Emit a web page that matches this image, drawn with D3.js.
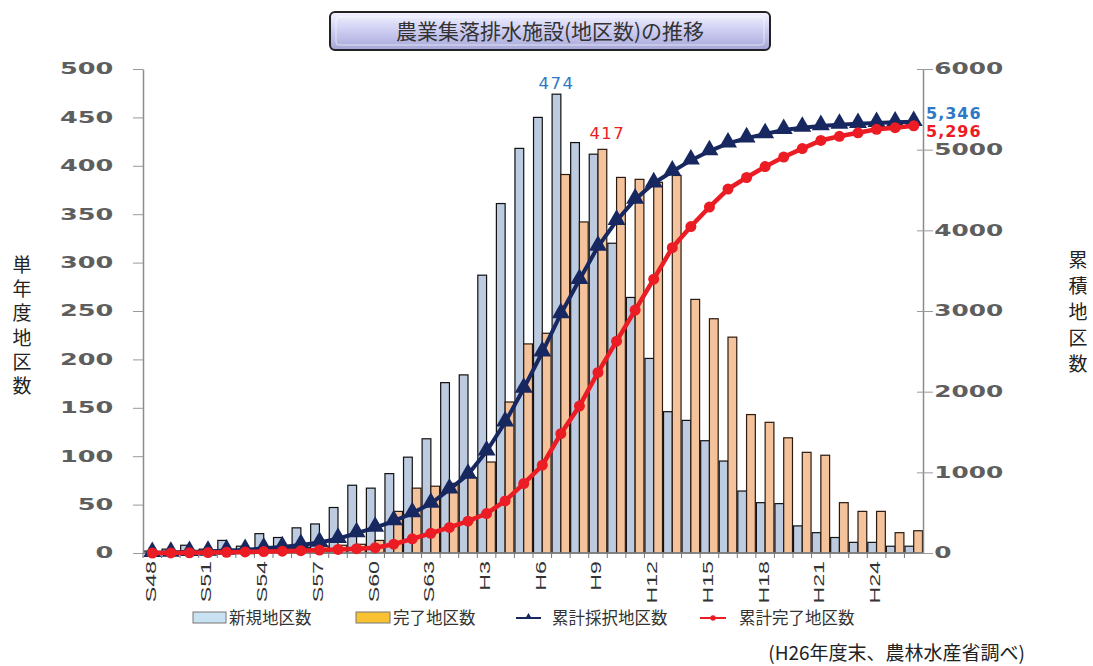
<!DOCTYPE html>
<html>
<head>
<meta charset="utf-8">
<script src="https://cdn.jsdelivr.net/npm/d3@7"></script>
<style>
  body { margin: 0; background: #fff; }
  svg { display: block; }
</style>
</head>
<body>
<svg id="chart"></svg>
<script>
// 年度（S48〜H26）
const years = ["S48","S49","S50","S51","S52","S53","S54","S55","S56","S57","S58","S59","S60","S61","S62","S63",
  "H1","H2","H3","H4","H5","H6","H7","H8","H9","H10","H11","H12","H13","H14","H15","H16","H17","H18","H19","H20",
  "H21","H22","H23","H24","H25","H26"];
const shownYears = ["S48","S51","S54","S57","S60","S63","H3","H6","H9","H12","H15","H18","H21","H24"];

// 単年度の地区数
const newCount = [2,4,8,4,13,7,20,16,26,30,47,70,67,82,99,118,
  176,184,287,361,418,450,474,424,412,320,264,201,146,137,116,95,64,52,51,28,21,16,11,11,7,7];
const doneCount = [0,1,2,3,3,4,5,5,6,7,8,9,13,43,67,69,
  72,78,94,156,216,227,391,342,417,388,386,383,390,262,242,223,143,135,119,104,101,52,43,43,21,23];

// 累積の地区数
const cumNew = [2,6,14,18,31,38,58,74,100,130,177,247,314,396,495,613,
  789,973,1260,1621,2039,2489,2963,3387,3799,4119,4383,4584,4730,4867,4983,5078,5142,5194,5245,5273,
  5294,5310,5321,5332,5339,5346];
const cumDone = [0,1,3,6,9,13,18,23,29,36,44,53,66,109,176,245,
  317,395,489,645,861,1088,1479,1821,2238,2626,3012,3395,3785,4047,4289,4512,4655,4790,4909,5013,
  5114,5166,5209,5252,5273,5296];

const leftTicks = [0,50,100,150,200,250,300,350,400,450,500];
const rightTicks = [0,1000,2000,3000,4000,5000,6000];
const legendItems = ["新規地区数","完了地区数","累計採択地区数","累計完了地区数"];

const W = 1093, H = 666;
const svg = d3.select("#chart").attr("width", W).attr("height", H);

const x = d3.scaleBand().domain(years).range([143, 923]);
const sub = d3.scaleBand().domain(["n","d"]).range([0, x.bandwidth()]).paddingOuter(0.06);
const yL = d3.scaleLinear().domain([0, 500]).range([553, 69]);
const yR = d3.scaleLinear().domain([0, 6000]).range([553, 69]);

// title box
const defs = svg.append("defs");
const grad = defs.append("linearGradient").attr("id", "tg").attr("x1", 0).attr("y1", 0).attr("x2", 0).attr("y2", 1);
grad.append("stop").attr("offset", "0%").attr("stop-color", "#f4f4ff");
grad.append("stop").attr("offset", "45%").attr("stop-color", "#d0d0f4");
grad.append("stop").attr("offset", "100%").attr("stop-color", "#a6a6d8");
svg.append("rect").attr("x", 330).attr("y", 12).attr("width", 440).attr("height", 38)
  .attr("rx", 5).attr("fill", "url(#tg)").attr("stroke", "#222").attr("stroke-width", 2);
svg.append("rect").attr("x", 336).attr("y", 17).attr("width", 428).attr("height", 28)
  .attr("rx", 3).attr("fill", "none").attr("stroke", "#ffffff").attr("stroke-opacity", 0.6);
svg.append("text").attr("x", 550).attr("y", 39).attr("text-anchor", "middle")
  .attr("font-family", "'Noto Sans CJK JP', sans-serif").attr("font-size", 21).attr("fill", "#333")
  .text("農業集落排水施設(地区数)の推移");

// bars
const g = svg.append("g");
g.selectAll("rect.new").data(years).join("rect").attr("class", "new")
  .attr("x", d => x(d) + sub("n")).attr("width", sub.bandwidth())
  .attr("y", (d, i) => yL(newCount[i])).attr("height", (d, i) => yL(0) - yL(newCount[i]))
  .attr("fill", "#bccbe0").attr("stroke", "#111").attr("stroke-width", 1.2);
g.selectAll("rect.done").data(years).join("rect").attr("class", "done")
  .attr("x", d => x(d) + sub("d")).attr("width", sub.bandwidth())
  .attr("y", (d, i) => yL(doneCount[i])).attr("height", (d, i) => yL(0) - yL(doneCount[i]))
  .attr("fill", "#f5c39b").attr("stroke", "#2a1a10").attr("stroke-width", 1.2);

// axes
const axisFont = "'DejaVu Sans', sans-serif";
const left = svg.append("g").attr("transform", "translate(143,0)")
  .call(d3.axisLeft(yL).tickValues(leftTicks).tickSize(10).tickSizeOuter(0).tickFormat(d3.format("d")));
const right = svg.append("g").attr("transform", "translate(923,0)")
  .call(d3.axisRight(yR).tickValues(rightTicks).tickSize(10).tickSizeOuter(0).tickFormat(d3.format("d")));
[left, right].forEach(a => {
  a.select(".domain").attr("stroke", "#8c8c8c").attr("stroke-width", 1.5);
  a.selectAll(".tick line").attr("stroke", "#9a9a9a");
  a.selectAll("text").attr("font-family", axisFont).attr("font-weight", "bold")
    .attr("font-size", 15.5).attr("fill", "#5e5e5e");
});
left.selectAll(".tick text").attr("x", -18).attr("transform", "scale(1.65,1)");
right.selectAll(".tick line").attr("x1", -6).attr("x2", 10);
right.selectAll(".tick text").attr("x", 7).attr("transform", "scale(1.6,1)");

const bottom = svg.append("g").attr("transform", "translate(0,553)");
bottom.append("line").attr("x1", 143).attr("x2", 923).attr("stroke", "#8c8c8c").attr("stroke-width", 1.5);
bottom.selectAll("line.t").data(years).join("line").attr("class", "t")
  .attr("x1", d => x(d)).attr("x2", d => x(d)).attr("y1", 0).attr("y2", 5).attr("stroke", "#777");
bottom.selectAll("text").data(shownYears).join("text")
  .attr("transform", d => `translate(${x(d) + x.bandwidth() / 2 - 2},8) rotate(-90) scale(1.55,1)`)
  .attr("dy", "0.36em").attr("text-anchor", "end")
  .attr("font-family", "'Liberation Sans', sans-serif").attr("font-size", 15).attr("fill", "#333")
  .text(d => d);

// cumulative lines
const lineNew = d3.line().x((d, i) => x(years[i]) + x.bandwidth() / 2).y(d => yR(d));
svg.append("path").datum(cumNew).attr("d", lineNew).attr("fill", "none")
  .attr("stroke", "#17275f").attr("stroke-width", 4);
svg.append("g").selectAll("path").data(cumNew).join("path")
  .attr("transform", (d, i) => `translate(${x(years[i]) + x.bandwidth() / 2},${yR(d) - 1})`)
  .attr("d", d3.symbol(d3.symbolTriangle, 140)).attr("fill", "#17275f");

svg.append("path").datum(cumDone).attr("d", lineNew).attr("fill", "none")
  .attr("stroke", "#ec1c24").attr("stroke-width", 4.5);
svg.append("g").selectAll("path").data(cumDone).join("path")
  .attr("transform", (d, i) => `translate(${x(years[i]) + x.bandwidth() / 2},${yR(d)})`)
  .attr("d", d3.symbol(d3.symbolCircle, 95)).attr("fill", "#ec1c24");

// value labels
const lblFont = "'DejaVu Sans', sans-serif";
const iPeak = years.indexOf("H7"), iDone = years.indexOf("H9"), last = years.length - 1;
svg.append("text").attr("x", x("H7") + sub("n") + sub.bandwidth() / 2).attr("y", yL(newCount[iPeak]) - 5)
  .attr("text-anchor", "middle").attr("font-family", lblFont).attr("font-size", 16.5).attr("letter-spacing", 1.5)
  .attr("fill", "#2e78c8").text(newCount[iPeak]);
svg.append("text").attr("x", x("H9") + sub("d") + sub.bandwidth() / 2 + 5).attr("y", yL(doneCount[iDone]) - 10)
  .attr("text-anchor", "middle").attr("font-family", lblFont).attr("font-size", 16.5).attr("letter-spacing", 1.5)
  .attr("fill", "#ec1c24").text(doneCount[iDone]);
svg.append("text").attr("x", 926).attr("y", yR(cumNew[last]) - 3)
  .attr("font-family", lblFont).attr("font-size", 16).attr("letter-spacing", 1).attr("font-weight", "bold")
  .attr("fill", "#2e78c8").text(d3.format(",")(cumNew[last]));
svg.append("text").attr("x", 926).attr("y", yR(cumDone[last]) + 11)
  .attr("font-family", lblFont).attr("font-size", 16).attr("letter-spacing", 1).attr("font-weight", "bold")
  .attr("fill", "#ec1c24").text(d3.format(",")(cumDone[last]));

// axis titles (vertical)
const jp = "'Noto Sans CJK JP', sans-serif";
svg.append("text").attr("x", 22).attr("y", 255)
  .style("writing-mode", "vertical-rl").attr("letter-spacing", 5.3)
  .attr("font-family", jp).attr("font-size", 19).attr("fill", "#222").text("単年度地区数");
svg.append("text").attr("x", 1078).attr("y", 250)
  .style("writing-mode", "vertical-rl").attr("letter-spacing", 7)
  .attr("font-family", jp).attr("font-size", 19).attr("fill", "#222").text("累積地区数");

// legend
const lg = svg.append("g").attr("font-family", jp).attr("font-size", 16.5).attr("fill", "#333");
lg.append("rect").attr("x", 193).attr("y", 612).attr("width", 33).attr("height", 11)
  .attr("fill", "#c8e2f2").attr("stroke", "#777");
lg.append("text").attr("x", 229).attr("y", 624).text(legendItems[0]);
lg.append("rect").attr("x", 356).attr("y", 612).attr("width", 34).attr("height", 11)
  .attr("fill", "#f8c232").attr("stroke", "#777");
lg.append("text").attr("x", 393).attr("y", 624).text(legendItems[1]);
lg.append("line").attr("x1", 516).attr("x2", 541).attr("y1", 618).attr("y2", 618).attr("stroke", "#17275f").attr("stroke-width", 2);
lg.append("path").attr("transform", "translate(528.5,617)").attr("d", d3.symbol(d3.symbolTriangle, 22)).attr("fill", "#17275f");
lg.append("text").attr("x", 552).attr("y", 624).text(legendItems[2]);
lg.append("line").attr("x1", 700).attr("x2", 726).attr("y1", 618).attr("y2", 618).attr("stroke", "#ec1c24").attr("stroke-width", 2);
lg.append("path").attr("transform", "translate(713,618)").attr("d", d3.symbol(d3.symbolCircle, 22)).attr("fill", "#ec1c24");
lg.append("text").attr("x", 739).attr("y", 624).text(legendItems[3]);

svg.append("text").attr("x", 1025).attr("y", 660).attr("text-anchor", "end")
  .attr("font-family", jp).attr("font-size", 19).attr("fill", "#222")
  .text("(H26年度末、農林水産省調べ)");
</script>
</body>
</html>
